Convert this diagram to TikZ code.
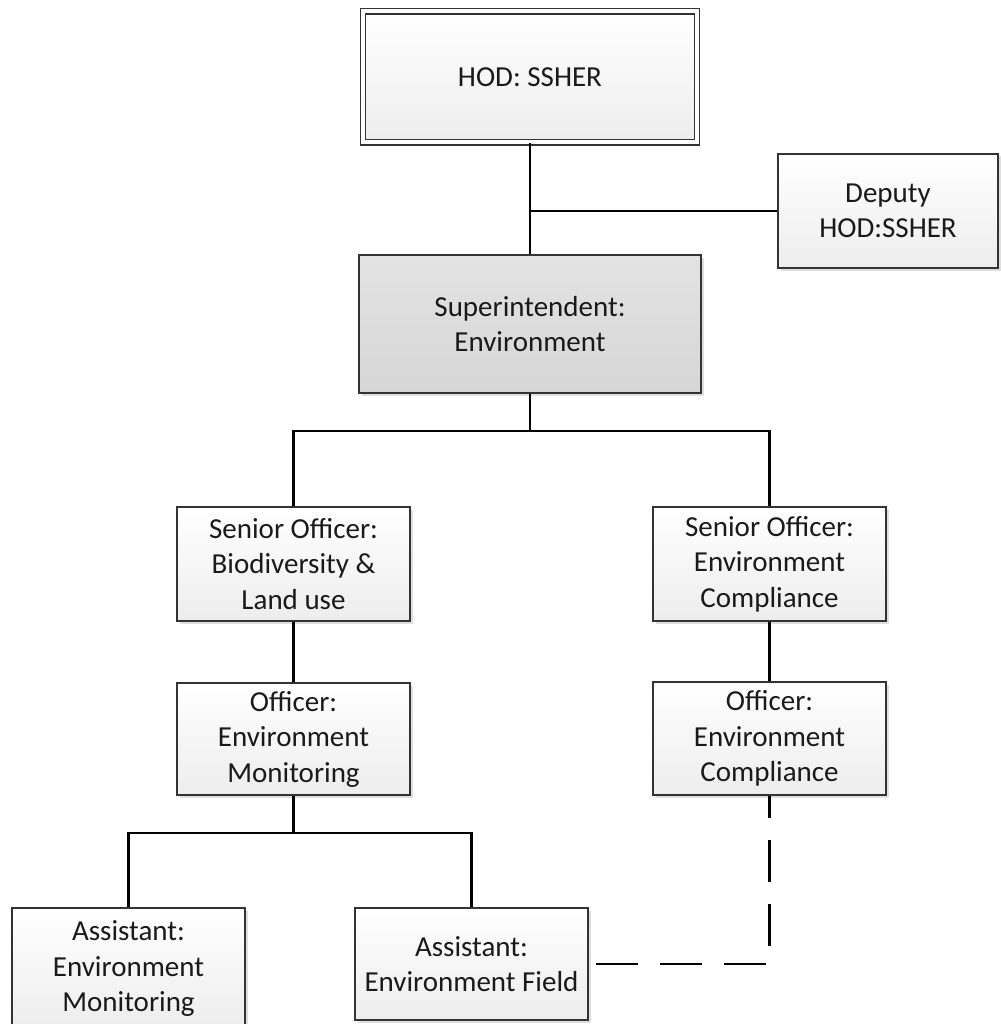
\documentclass[tikz,border=0pt]{standalone}
\usepackage{fontspec}
\setmainfont{Carlito}
\usetikzlibrary{shadows}
\definecolor{txt}{HTML}{1A1A1A}
\definecolor{edge}{HTML}{333333}
\tikzset{
  orgbox/.style={draw=edge, line width=1.8pt, inner sep=0pt, align=center,
    top color=white, bottom color=gray!14, text=txt,
    font=\fontsize{29}{35.5}\selectfont,
    drop shadow={shadow xshift=2.5pt, shadow yshift=-2.5pt, opacity=0.25, fill=gray}},
  darkbox/.style={orgbox, top color=gray!22, bottom color=gray!32},
  hodbox/.style={orgbox, double=white, double distance=4pt, line width=1.4pt},
  link/.style={line width=2.2pt, black},
  dlink/.style={link, dash pattern=on 42pt off 22pt, dash phase=20pt}
}
\begin{document}
\begin{tikzpicture}[x=1pt,y=-1pt]
\useasboundingbox (0,0) rectangle (1000,1024);
\node[hodbox, minimum width=334pt, minimum height=131pt] (hod) at (530,77) {HOD: SSHER};
\node[orgbox, minimum width=220pt, minimum height=114pt] (dep) at (888,211) {Deputy\\HOD:SSHER};
\node[darkbox, minimum width=342pt, minimum height=138pt] (sup) at (530,324) {Superintendent:\\Environment};
\node[orgbox, minimum width=233pt, minimum height=114pt] (sbio) at (293.5,564) {Senior Officer:\\Biodiversity \&\\Land use};
\node[orgbox, minimum width=233pt, minimum height=114pt] (scomp) at (769.5,564) {Senior Officer:\\Environment\\Compliance};
\node[orgbox, minimum width=233pt, minimum height=112pt] (omon) at (293.5,739) {Officer:\\Environment\\Monitoring};
\node[orgbox, minimum width=233pt, minimum height=113pt] (ocomp) at (769.5,738.5) {Officer:\\Environment\\Compliance};
\node[orgbox, minimum width=233pt, minimum height=122pt] (amon) at (128.5,969) {Assistant:\\Environment\\Monitoring};
\node[orgbox, minimum width=233pt, minimum height=112pt] (afield) at (471.5,964) {Assistant:\\Environment Field};
\coordinate (j1) at (530,211);
\coordinate (j2) at (530,431);
\coordinate (j3) at (293.5,833);
\draw[link] (hod.south) -- (sup.north);
\draw[link] (dep.west) -- (j1);
\draw[link] (sup.south) -- (j2);
\draw[link] (sbio.north) |- (j2) -| (scomp.north);
\draw[link] (sbio.south) -- (omon.north);
\draw[link] (scomp.south) -- (ocomp.north);
\draw[link] (omon.south) -- (j3);
\draw[link] (amon.north) |- (j3) -| (afield.north);
\draw[dlink] (ocomp.south) |- (afield.east);
\end{tikzpicture}
\end{document}
